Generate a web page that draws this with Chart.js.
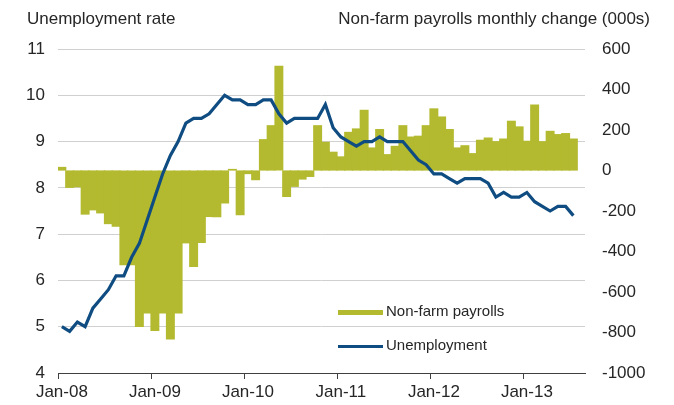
<!DOCTYPE html>
<html>
<head>
<meta charset="utf-8">
<script src="https://cdn.jsdelivr.net/npm/chart.js@4.4.1/dist/chart.umd.min.js"></script>
<style>
    body { margin: 0; background: #ffffff; }
    #wrap { width: 674px; height: 405px; }
</style>
</head>
<body>
<div id="wrap"><canvas id="jobs-chart" width="674" height="405"></canvas></div>
<script>
// month categories, Jan-08 .. Aug-13 (last month has no data)
var years = ["08", "09", "10", "11", "12", "13"];
var monthNames = ["Jan", "Feb", "Mar", "Apr", "May", "Jun", "Jul", "Aug", "Sep", "Oct", "Nov", "Dec"];

// non-farm payrolls monthly change, 000s
var payrolls2008 = [15, -83, -80, -215, -194, -209, -262, -275, -465, -465, -770, -703];
var payrolls2009 = [-790, -703, -831, -703, -357, -474, -355, -227, -228, -160, 5, -218];
var payrolls2010 = [-15, -45, 152, 221, 514, -128, -78, -42, -29, 221, 139, 90];
var payrolls2011 = [67, 188, 205, 297, 111, 202, 78, 119, 221, 165, 169, 221];
var payrolls2012 = [304, 264, 202, 111, 122, 83, 149, 160, 142, 155, 243, 215];
var payrolls2013 = [144, 323, 142, 193, 177, 182, 155, null];

// unemployment rate, %
var unemployment2008 = [5.0, 4.9, 5.1, 5.0, 5.4, 5.6, 5.8, 6.1, 6.1, 6.5, 6.8, 7.3];
var unemployment2009 = [7.8, 8.3, 8.7, 9.0, 9.4, 9.5, 9.5, 9.6, 9.8, 10.0, 9.9, 9.9];
var unemployment2010 = [9.8, 9.8, 9.9, 9.9, 9.6, 9.4, 9.5, 9.5, 9.5, 9.5, 9.8, 9.3];
var unemployment2011 = [9.1, 9.0, 8.9, 9.0, 9.0, 9.1, 9.0, 9.0, 9.0, 8.8, 8.6, 8.5];
var unemployment2012 = [8.3, 8.3, 8.2, 8.1, 8.2, 8.2, 8.2, 8.1, 7.8, 7.9, 7.8, 7.8];
var unemployment2013 = [7.9, 7.7, 7.6, 7.5, 7.6, 7.6, 7.4, null];

var leftAxisTitle = "Unemployment rate";
var rightAxisTitle = "Non-farm payrolls monthly change (000s)";
var legendLabels = ["Non-farm payrolls", "Unemployment"];

var barColor = "#B3BA2F";
var lineColor = "#0F4C81";
var textColor = "#262626";
var fontFamily = "'Liberation Sans', Arial, sans-serif";

var monthLabels = [];
years.forEach(function (yr) {
    monthNames.forEach(function (m) {
        monthLabels.push(m + "-" + yr);
    });
});
monthLabels = monthLabels.slice(0, 68);

var payrolls = [].concat(payrolls2008, payrolls2009, payrolls2010, payrolls2011, payrolls2012, payrolls2013);
var unemployment = [].concat(unemployment2008, unemployment2009, unemployment2010, unemployment2011, unemployment2012, unemployment2013);

// axis titles on top and the legend box inside the plot
var chartTextPlugin = {
    id: "chartText",
    afterDraw: function (chart) {
        var ctx = chart.ctx;
        ctx.save();
        ctx.fillStyle = textColor;
        ctx.font = "17px " + fontFamily;
        ctx.textBaseline = "middle";
        ctx.textAlign = "left";
        ctx.fillText(leftAxisTitle, 27, 19);
        ctx.textAlign = "right";
        ctx.fillText(rightAxisTitle, 650, 19);

        ctx.font = "15px " + fontFamily;
        ctx.textAlign = "left";
        ctx.fillStyle = barColor;
        ctx.fillRect(338, 310, 45, 5);
        ctx.strokeStyle = lineColor;
        ctx.lineWidth = 3;
        ctx.beginPath();
        ctx.moveTo(338, 346.5);
        ctx.lineTo(383, 346.5);
        ctx.stroke();
        ctx.fillStyle = textColor;
        ctx.fillText(legendLabels[0], 386, 312);
        ctx.fillText(legendLabels[1], 386, 346);
        ctx.restore();
    }
};

new Chart(
    document.getElementById("jobs-chart"),
    {
        type: "bar",
        data: {
            labels: monthLabels,
            datasets: [
                {
                    type: "line",
                    label: legendLabels[1],
                    data: unemployment,
                    yAxisID: "yLeft",
                    borderColor: lineColor,
                    borderWidth: 3.2,
                    pointRadius: 0,
                    tension: 0,
                    order: 0
                },
                {
                    type: "bar",
                    label: legendLabels[0],
                    data: payrolls,
                    yAxisID: "yRight",
                    backgroundColor: barColor,
                    barPercentage: 1,
                    categoryPercentage: 1,
                    inflateAmount: 0.6,
                    order: 1
                }
            ]
        },
        options: {
            responsive: false,
            animation: false,
            layout: {
                padding: { top: 49, left: 0, right: 0, bottom: 0 }
            },
            scales: {
                x: {
                    offset: true,
                    afterFit: function (scale) { scale.height = 32; },
                    grid: {
                        offset: true,
                        drawOnChartArea: false,
                        drawTicks: true,
                        tickLength: 6,
                        tickColor: function (context) {
                            return (context.index % 12 === 0) ? "#404040" : "rgba(0,0,0,0)";
                        }
                    },
                    border: { display: true, color: "#404040", width: 1 },
                    ticks: {
                        autoSkip: false,
                        maxRotation: 0,
                        padding: 3,
                        color: textColor,
                        font: { family: fontFamily, size: 17 },
                        callback: function (value, index) {
                            return (index % 12 === 0) ? monthLabels[index] : "";
                        }
                    }
                },
                yLeft: {
                    position: "left",
                    min: 4,
                    max: 11,
                    afterFit: function (scale) { scale.width = 58; },
                    grid: { color: "#D0D0D0", lineWidth: 1, drawTicks: false },
                    border: { display: false },
                    ticks: {
                        stepSize: 1,
                        padding: 13,
                        color: textColor,
                        font: { family: fontFamily, size: 17 }
                    }
                },
                yRight: {
                    position: "right",
                    min: -1000,
                    max: 600,
                    afterFit: function (scale) { scale.width = 89; },
                    grid: { drawOnChartArea: false, drawTicks: false },
                    border: { display: false },
                    ticks: {
                        stepSize: 200,
                        padding: 17,
                        color: textColor,
                        font: { family: fontFamily, size: 17 },
                        callback: function (value) {
                            return String(value);
                        }
                    }
                }
            },
            plugins: {
                legend: { display: false },
                tooltip: { enabled: false }
            }
        },
        plugins: [chartTextPlugin]
    }
);
</script>
</body>
</html>
